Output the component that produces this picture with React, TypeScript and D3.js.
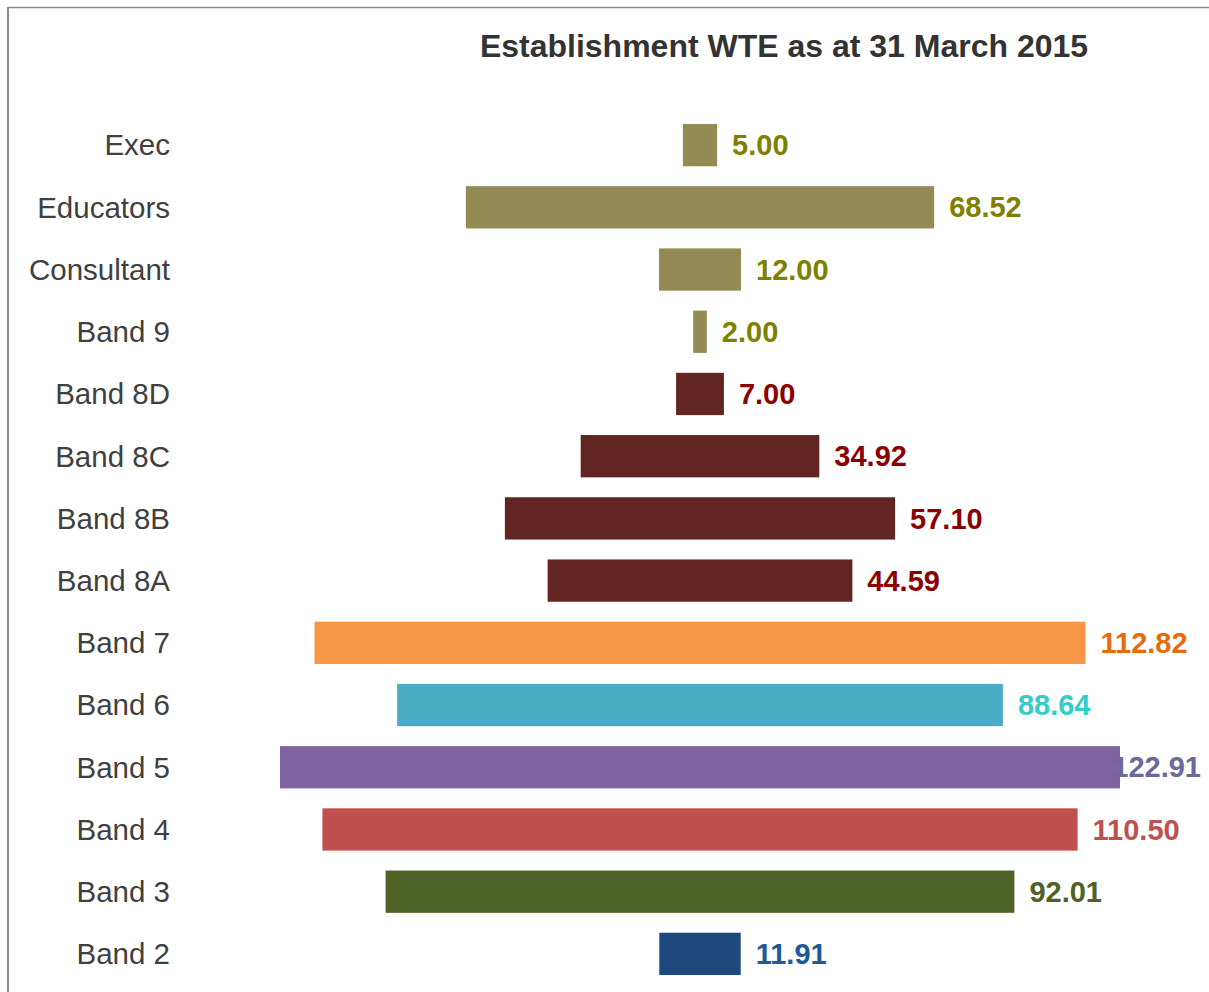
import React from 'react';
import * as d3 from 'd3';

const categories = ['Exec', 'Educators', 'Consultant', 'Band 9', 'Band 8D', 'Band 8C', 'Band 8B', 'Band 8A', 'Band 7', 'Band 6', 'Band 5', 'Band 4', 'Band 3', 'Band 2'];
const values = [5.0, 68.52, 12.0, 2.0, 7.0, 34.92, 57.1, 44.59, 112.82, 88.64, 122.91, 110.5, 92.01, 11.91];
const barColors = ['#948a54', '#948a54', '#948a54', '#948a54', '#632523', '#632523', '#632523', '#632523', '#f79646', '#4bacc6', '#8064a2', '#c0504d', '#4f6228', '#1f497d'];
const labelColors = ['#808000', '#808000', '#808000', '#808000', '#8b0000', '#8b0000', '#8b0000', '#8b0000', '#e46c0a', '#33cccc', '#6a6a9c', '#c0504d', '#4f6228', '#1f5a96'];

const W = 1209;
const H = 992;
const font = 'Arial, "Liberation Sans", sans-serif';

export default function App() {
  const cx = 700;
  // full bar width, bars centred on cx
  const x = d3.scaleLinear().domain([0, 122.91]).range([0, 840]);
  const y = d3.scaleBand().domain(categories).range([114, 985]).paddingInner(0.32).paddingOuter(0.16);
  const bh = y.bandwidth();
  const vSize = 29;

  return (
    <svg width={W} height={H} style={{ position: 'absolute', left: 0, top: 0, background: '#fff' }}>
      <line x1={8} y1={7.5} x2={W} y2={7.5} stroke="#888" strokeWidth={1.5} />
      <line x1={8} y1={7} x2={8} y2={H} stroke="#888" strokeWidth={2} />
      <text x={784} y={57} textAnchor="middle" fontFamily={font} fontWeight="bold" fontSize={32} fill="#333">
        Establishment WTE as at 31 March 2015
      </text>
      {categories.map((c, i) => {
        const w = x(values[i]);
        const yc = (y(c) as number) + bh / 2;
        const end = cx + w / 2;
        const label = values[i].toFixed(2);
        const lw = (label.length * 0.556 - 0.278) * vSize;
        const overflow = end + 15 + lw > 1201;
        return (
          <g key={c}>
            <text x={170} y={yc} dy="0.35em" textAnchor="end" fontFamily={font} fontSize={29.5} fill="#404040">
              {c}
            </text>
            <rect x={cx - w / 2} y={y(c)} width={w} height={bh} fill={barColors[i]} />
            <text
              x={overflow ? 1201 : end + 15}
              y={yc}
              dy="0.35em"
              textAnchor={overflow ? 'end' : 'start'}
              fontFamily={font}
              fontWeight="bold"
              fontSize={vSize}
              fill={labelColors[i]}
            >
              {label}
            </text>
          </g>
        );
      })}
    </svg>
  );
}
